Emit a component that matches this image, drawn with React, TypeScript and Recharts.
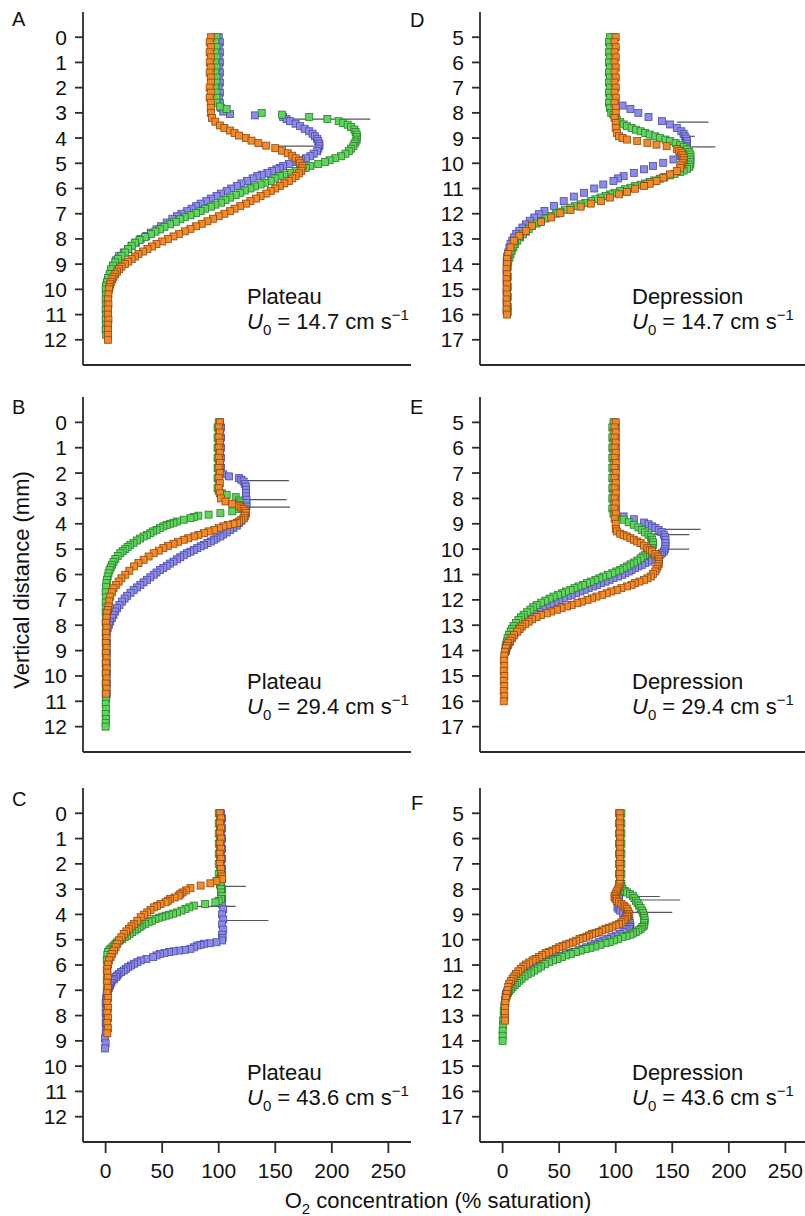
import React from 'react';
import { ScatterChart, Scatter, XAxis, YAxis, ReferenceLine } from 'recharts';

// each point: [depth (mm), O2 concentration (% saturation)]
type Pt = [number, number];
// error bar: [depth, from, to]
type Bar = [number, number, number];

const X_TICKS = [0, 50, 100, 150, 200, 250];
const PLATEAU_TICKS = [0, 1, 2, 3, 4, 5, 6, 7, 8, 9, 10, 11, 12];
const DEPRESSION_TICKS = [5, 6, 7, 8, 9, 10, 11, 12, 13, 14, 15, 16, 17];

// ---- A: plateau, 14.7 cm/s
const A_BLUE: Pt[] = [
  [0, 100], [0.2, 101], [0.4, 100], [0.6, 101], [0.8, 100], [1.0, 101], [1.2, 100], [1.4, 101], [1.6, 100], [1.8, 101],
  [2.0, 100], [2.2, 101], [2.4, 100], [2.6, 101], [2.8, 102], [2.95, 104], [3.05, 110], [3.1, 132], [3.16, 157], [3.25, 160],
  [3.33, 163], [3.43, 168], [3.53, 172], [3.63, 176], [3.73, 180], [3.83, 183], [3.93, 185], [4.03, 187], [4.12, 188], [4.22, 189],
  [4.32, 189], [4.42, 188], [4.52, 187], [4.62, 184], [4.72, 181], [4.8, 177], [4.88, 173], [4.95, 169], [5.03, 162], [5.11, 157],
  [5.18, 154], [5.24, 151], [5.31, 147], [5.38, 143], [5.45, 138], [5.51, 134], [5.6, 130], [5.7, 125], [5.8, 120], [5.9, 116],
  [6.0, 111], [6.1, 107], [6.2, 102], [6.3, 98], [6.4, 93], [6.5, 89], [6.6, 84], [6.7, 80], [6.8, 76], [6.9, 72],
  [7.0, 67], [7.1, 63], [7.2, 59], [7.35, 54], [7.5, 49], [7.62, 45], [7.75, 40], [7.88, 36], [8.0, 31], [8.14, 27],
  [8.27, 23], [8.41, 20], [8.54, 16], [8.67, 12], [8.85, 9], [9.06, 6.5], [9.25, 5], [9.46, 3.6], [9.65, 2], [9.85, 1],
  [10.0, 0.6], [10.2, 0.5], [10.4, 1], [10.6, 0.5], [10.8, 1], [11.0, 0.5], [11.2, 1], [11.4, 0.5], [11.6, 1],
];
const A_GREEN: Pt[] = [
  [0, 98], [0.2, 97], [0.4, 98], [0.6, 97], [0.8, 98], [1.0, 97], [1.2, 98], [1.4, 97], [1.6, 98], [1.8, 98],
  [2.0, 97], [2.2, 98], [2.4, 98], [2.6, 98], [2.75, 101], [2.85, 107], [3.0, 138], [3.07, 156], [3.16, 180], [3.24, 196],
  [3.33, 206], [3.4, 210], [3.47, 214], [3.56, 217], [3.66, 220], [3.76, 221], [3.86, 222], [3.96, 222], [4.06, 222], [4.14, 221],
  [4.22, 220], [4.32, 219], [4.42, 217], [4.52, 215], [4.62, 212], [4.72, 208], [4.8, 203], [4.88, 198], [4.95, 194], [5.03, 188],
  [5.11, 181], [5.18, 177], [5.24, 172], [5.31, 168], [5.38, 163], [5.45, 158], [5.51, 154], [5.6, 150], [5.7, 146], [5.77, 141],
  [5.84, 137], [5.92, 132], [6.0, 128], [6.08, 123], [6.17, 119], [6.26, 115], [6.36, 110], [6.46, 106], [6.56, 102], [6.64, 97],
  [6.72, 93], [6.8, 88], [6.89, 84], [6.97, 80], [7.06, 75], [7.14, 70], [7.22, 66], [7.32, 62], [7.42, 57], [7.52, 52],
  [7.62, 48], [7.71, 44], [7.81, 40], [7.92, 35], [8.04, 30], [8.15, 26], [8.27, 23], [8.4, 20], [8.54, 17], [8.67, 14],
  [8.8, 11], [8.93, 8.5], [9.06, 6.5], [9.2, 5], [9.39, 3.6], [9.55, 2.2], [9.72, 1.2], [9.85, 0.5], [10.0, 0], [10.2, 0.5],
  [10.4, 0], [10.6, 0.5], [10.8, 0], [11.0, 0.5], [11.2, 0], [11.4, 0.5], [11.6, 0], [11.8, 0.5],
];
const A_ORANGE: Pt[] = [
  [0, 93], [0.2, 92], [0.4, 93], [0.6, 92], [0.8, 93], [1.0, 92], [1.2, 93], [1.4, 92], [1.6, 93], [1.8, 93],
  [2.0, 92], [2.2, 93], [2.4, 92], [2.6, 93], [2.8, 93], [3.0, 93], [3.2, 94], [3.35, 97], [3.5, 101], [3.6, 105],
  [3.7, 110], [3.8, 114], [3.9, 118], [4.0, 124], [4.1, 129], [4.2, 135], [4.3, 142], [4.4, 150], [4.5, 156], [4.6, 161],
  [4.7, 165], [4.8, 168], [4.9, 171], [5.0, 172], [5.1, 174], [5.2, 174], [5.3, 173], [5.4, 171], [5.5, 168], [5.6, 165],
  [5.7, 162], [5.8, 158], [5.9, 154], [6.0, 150], [6.1, 146], [6.2, 142], [6.3, 137], [6.4, 133], [6.5, 128], [6.6, 124],
  [6.7, 119], [6.8, 114], [6.9, 110], [7.0, 105], [7.1, 100], [7.2, 95], [7.3, 90], [7.4, 85], [7.5, 80], [7.6, 75],
  [7.7, 70], [7.8, 65], [7.9, 60], [8.0, 55], [8.1, 50], [8.2, 45], [8.3, 41], [8.4, 37], [8.5, 33], [8.6, 29],
  [8.7, 26], [8.8, 23], [8.9, 20], [9.0, 17], [9.1, 14], [9.2, 12], [9.3, 10], [9.4, 8.5], [9.5, 7], [9.6, 6],
  [9.7, 5], [9.8, 4], [9.9, 3.5], [10.0, 3], [10.2, 2.5], [10.4, 2], [10.6, 2.5], [10.8, 2], [11.0, 2], [11.2, 2.5],
  [11.4, 2], [11.6, 2], [11.8, 2], [12.0, 2],
];
const A_BARS: Bar[] = [[3.25, 163, 234], [4.32, 150, 184]];

// ---- B: plateau, 29.4 cm/s
const B_BLUE: Pt[] = [
  [0, 101], [0.2, 102], [0.4, 101], [0.6, 102], [0.8, 101], [1.0, 102], [1.2, 101], [1.4, 102], [1.6, 101], [1.8, 102],
  [1.95, 101], [2.05, 104], [2.13, 109], [2.2, 118], [2.26, 120], [2.33, 122], [2.43, 123], [2.53, 124], [2.66, 124], [2.79, 124],
  [2.92, 124], [3.05, 124.5], [3.18, 124.5], [3.32, 124.5], [3.45, 124], [3.58, 124], [3.68, 123], [3.78, 122], [3.88, 120], [3.97, 118],
  [4.07, 116], [4.17, 113], [4.25, 110], [4.34, 107], [4.42, 104], [4.5, 101.5], [4.57, 98], [4.63, 95.6], [4.7, 93], [4.76, 90],
  [4.83, 87], [4.89, 84], [4.96, 81], [5.03, 78], [5.1, 75], [5.16, 72], [5.24, 69], [5.32, 66], [5.4, 63], [5.49, 60],
  [5.57, 57], [5.66, 54], [5.74, 51], [5.82, 48], [5.92, 45], [6.01, 42.5], [6.11, 39.5], [6.21, 36.6], [6.31, 33.5], [6.41, 30.7],
  [6.51, 27.7], [6.61, 24.8], [6.72, 22], [6.84, 19], [6.95, 16.8], [7.07, 14.5], [7.2, 12.2], [7.33, 10], [7.46, 8.5], [7.59, 7],
  [7.72, 5.5], [7.86, 4], [7.99, 2.8], [8.12, 1.8], [8.3, 1], [8.5, 0.5], [8.7, 1], [8.9, 0.5], [9.1, 1], [9.3, 0.5],
  [9.5, 1], [9.7, 0.5], [9.9, 1], [10.1, 0.5], [10.3, 1], [10.5, 0.5], [10.7, 1], [10.9, 0.5],
];
const B_GREEN: Pt[] = [
  [0, 100], [0.2, 99], [0.4, 100], [0.6, 99], [0.8, 100], [1.0, 99], [1.2, 100], [1.4, 99], [1.6, 100], [1.8, 99],
  [2.0, 100], [2.2, 99], [2.4, 100], [2.6, 99], [2.7, 100], [2.8, 103], [2.86, 107], [2.95, 115], [3.08, 118], [3.16, 119],
  [3.25, 119], [3.33, 118], [3.42, 117], [3.51, 112], [3.58, 101.5], [3.64, 91], [3.68, 82], [3.73, 78], [3.78, 75], [3.84, 69],
  [3.91, 63], [3.96, 60], [4.0, 57], [4.05, 54], [4.1, 51], [4.17, 48], [4.24, 45], [4.3, 42], [4.37, 39.5], [4.44, 36.5],
  [4.5, 33.6], [4.58, 30.5], [4.66, 27.7], [4.75, 24.7], [4.83, 21.8], [4.91, 19.5], [4.99, 17.4], [5.08, 15], [5.16, 13], [5.27, 10.7],
  [5.39, 8.6], [5.5, 7], [5.62, 5.6], [5.72, 4.5], [5.82, 3.5], [5.95, 2.6], [6.08, 1.8], [6.21, 1.2], [6.34, 0.6], [6.5, 0.5],
  [6.7, 0], [6.9, 0.5], [7.1, 0], [7.3, 0.5], [7.5, 0], [7.7, 0.5], [7.9, 0], [8.1, 0.5], [8.3, 0], [8.5, 0.5],
  [8.7, 0], [8.9, 0.5], [9.1, 0], [9.3, 0.5], [9.5, 0], [9.7, 0.5], [9.9, 0], [10.1, 0.5], [10.3, 0], [10.5, 0.5],
  [10.7, 0], [10.9, 0.5], [11.1, 0], [11.3, 0.5], [11.5, 0], [11.7, 0.5], [11.85, 0], [12.0, 0],
];
const B_ORANGE: Pt[] = [
  [0, 101], [0.2, 100], [0.4, 101], [0.6, 100], [0.8, 101], [1.0, 100], [1.2, 101], [1.4, 100], [1.6, 101], [1.8, 100],
  [2.0, 101], [2.2, 100], [2.4, 101], [2.6, 100], [2.8, 101], [3.0, 102], [3.12, 106], [3.21, 112], [3.29, 118], [3.36, 120],
  [3.42, 122], [3.5, 123], [3.58, 124], [3.68, 123], [3.78, 122], [3.85, 120], [3.91, 118], [3.96, 116], [4.0, 113], [4.05, 108],
  [4.1, 104], [4.17, 100], [4.24, 96], [4.3, 91], [4.37, 87], [4.44, 82], [4.5, 78], [4.57, 73], [4.63, 69], [4.71, 64],
  [4.79, 60], [4.88, 55], [4.96, 51], [5.06, 47], [5.16, 42.5], [5.29, 38], [5.42, 33.6], [5.55, 29], [5.68, 25], [5.85, 21],
  [6.01, 17.4], [6.15, 14], [6.28, 11.5], [6.41, 9], [6.54, 7], [6.7, 5.5], [6.87, 4], [7.06, 3.2], [7.26, 2.7], [7.4, 2],
  [7.53, 1.2], [7.7, 0.8], [7.9, 0.5], [8.1, 0.8], [8.3, 0.5], [8.5, 0.8], [8.7, 0.5], [8.9, 0.8], [9.1, 0.5], [9.3, 0.8],
  [9.5, 0.5], [9.7, 0.8], [9.9, 0.5], [10.1, 0.8], [10.3, 0.5], [10.5, 0.8], [10.7, 0.5],
];
const B_BARS: Bar[] = [[2.3, 124, 162], [3.05, 122, 160], [3.34, 125, 163]];

// ---- C: plateau, 43.6 cm/s
const C_BLUE: Pt[] = [
  [0, 102], [0.2, 103], [0.4, 102], [0.6, 103], [0.8, 102], [1.0, 103], [1.2, 102], [1.4, 103], [1.6, 102], [1.8, 103],
  [2.0, 102], [2.2, 103], [2.4, 102], [2.6, 103], [2.8, 102], [3.0, 103], [3.2, 102], [3.4, 103], [3.6, 103], [3.8, 104],
  [4.0, 103], [4.2, 104], [4.4, 103], [4.6, 104], [4.8, 103], [4.93, 103.5], [5.03, 103], [5.1, 98], [5.14, 92], [5.16, 87],
  [5.2, 84], [5.23, 81], [5.3, 78], [5.36, 75], [5.4, 70], [5.43, 65], [5.46, 60], [5.49, 56], [5.53, 52], [5.56, 48],
  [5.62, 45], [5.69, 42], [5.76, 36], [5.82, 31], [5.89, 28], [5.95, 25], [6.02, 22.5], [6.08, 20], [6.15, 18], [6.22, 16],
  [6.28, 13.7], [6.35, 11.5], [6.42, 10.2], [6.48, 9], [6.55, 7.5], [6.61, 6], [6.71, 5], [6.81, 4], [6.9, 3], [7.0, 2],
  [7.15, 1], [7.3, 0.5], [7.5, 0], [7.7, 0.5], [7.9, 0], [8.1, 0.5], [8.3, 0], [8.5, 0.5], [8.7, 0], [8.9, -0.5],
  [9.1, 0], [9.3, -0.5],
];
const C_GREEN: Pt[] = [
  [0, 100], [0.2, 101], [0.4, 100], [0.6, 101], [0.8, 100], [1.0, 101], [1.2, 100], [1.4, 101], [1.6, 100], [1.8, 101],
  [2.0, 100], [2.2, 101], [2.4, 100], [2.6, 101], [2.8, 101], [2.86, 101.5], [3.0, 102], [3.13, 102], [3.26, 102.5], [3.39, 102],
  [3.46, 100], [3.52, 97], [3.59, 88], [3.65, 78], [3.72, 74], [3.78, 70.6], [3.85, 67], [3.92, 63], [3.97, 59.5], [4.01, 56],
  [4.05, 53], [4.09, 50], [4.13, 47], [4.18, 44], [4.25, 41], [4.31, 38], [4.37, 35], [4.44, 32], [4.5, 30], [4.57, 28],
  [4.63, 25.7], [4.7, 23.5], [4.77, 21.2], [4.84, 19], [4.9, 16.8], [4.97, 14.7], [5.03, 12.5], [5.1, 10.3], [5.16, 8.8], [5.23, 7.4],
  [5.3, 5.9], [5.36, 4.4], [5.42, 3.2], [5.49, 2], [5.6, 1.5], [5.8, 1], [6.0, 1.5], [6.2, 1], [6.4, 1.5], [6.6, 1],
  [6.8, 1.5], [7.0, 1], [7.2, 1.5], [7.4, 1], [7.6, 1.5], [7.8, 1], [8.0, 1.5], [8.2, 1], [8.4, 1],
];
const C_ORANGE: Pt[] = [
  [0, 101], [0.2, 102], [0.4, 101], [0.6, 102], [0.8, 101], [1.0, 102], [1.2, 101], [1.4, 102], [1.6, 101], [1.8, 102],
  [2.0, 101], [2.2, 102], [2.4, 102], [2.5, 103], [2.6, 103], [2.68, 98], [2.77, 92.6], [2.86, 84], [2.96, 75], [3.05, 71],
  [3.13, 68], [3.2, 66], [3.26, 64.7], [3.33, 61], [3.39, 57], [3.46, 55], [3.52, 53], [3.59, 48.5], [3.66, 45.5], [3.72, 42.6],
  [3.82, 39.7], [3.92, 36.8], [4.01, 34], [4.11, 31], [4.25, 28], [4.38, 25], [4.47, 22.8], [4.57, 20.6], [4.67, 18.3], [4.77, 16],
  [4.9, 13.9], [5.03, 11.8], [5.16, 10.3], [5.3, 8.8], [5.43, 7.3], [5.56, 5.9], [5.69, 4.4], [5.82, 2.9], [5.98, 2.2], [6.15, 1.5],
  [6.3, 1.5], [6.5, 2], [6.7, 1.5], [6.9, 2], [7.1, 1.5], [7.3, 2], [7.5, 1.5], [7.7, 2], [7.9, 1.5], [8.1, 2],
  [8.3, 1.5], [8.5, 2], [8.7, 1.5],
];
const C_BARS: Bar[] = [[2.89, 104, 124], [3.68, 74, 115], [4.24, 103, 144]];

// ---- D: depression, 14.7 cm/s
const D_BLUE: Pt[] = [
  [5.0, 98], [5.2, 97], [5.4, 98], [5.6, 97], [5.8, 98], [6.0, 97], [6.2, 98], [6.4, 97], [6.6, 98], [6.8, 97],
  [7.0, 98], [7.2, 97], [7.4, 98], [7.6, 99], [7.71, 106], [7.85, 113], [8.0, 120], [8.16, 129], [8.33, 141], [8.46, 148],
  [8.6, 154], [8.73, 158], [8.83, 160], [8.93, 161], [9.02, 162], [9.12, 163], [9.22, 163], [9.32, 162], [9.42, 161], [9.52, 160],
  [9.62, 159], [9.72, 157], [9.85, 151], [9.98, 142], [10.11, 133], [10.24, 125], [10.38, 116], [10.51, 107], [10.6, 102], [10.7, 98],
  [10.84, 89], [11.0, 81], [11.17, 72], [11.32, 63], [11.5, 54], [11.69, 45.5], [11.89, 37], [12.02, 32], [12.15, 28], [12.28, 24],
  [12.42, 20.5], [12.55, 17.5], [12.68, 14.7], [12.8, 12], [12.94, 10], [13.07, 8.5], [13.2, 7], [13.35, 6], [13.54, 5], [13.7, 4],
  [13.9, 3.5], [14.1, 4], [14.3, 3.5], [14.5, 4], [14.7, 3.5], [14.9, 4], [15.1, 3.5], [15.3, 4], [15.5, 3.5], [15.7, 4],
  [15.85, 3.5],
];
const D_GREEN: Pt[] = [
  [5.0, 95], [5.2, 94], [5.4, 95], [5.6, 94], [5.8, 95], [6.0, 94], [6.2, 95], [6.4, 94], [6.6, 95], [6.8, 94],
  [7.0, 95], [7.2, 94], [7.4, 95], [7.6, 94], [7.8, 95], [8.0, 96], [8.07, 98], [8.17, 100], [8.27, 101], [8.37, 104],
  [8.46, 107], [8.53, 110], [8.6, 114], [8.67, 118], [8.73, 122], [8.8, 126], [8.86, 130], [8.93, 135], [8.99, 139], [9.06, 144],
  [9.12, 148], [9.2, 153], [9.28, 157], [9.36, 160], [9.45, 163], [9.55, 165], [9.65, 166], [9.75, 166], [9.85, 166], [9.95, 166],
  [10.05, 166], [10.14, 165], [10.22, 163], [10.29, 160], [10.35, 157], [10.42, 152], [10.48, 148], [10.55, 143], [10.61, 139], [10.68, 134],
  [10.74, 130], [10.8, 126], [10.85, 122], [10.91, 117], [10.97, 113], [11.03, 108], [11.1, 104], [11.17, 99], [11.23, 95], [11.3, 91],
  [11.36, 86.5], [11.43, 82], [11.5, 78], [11.57, 73], [11.63, 69], [11.7, 64], [11.76, 60], [11.84, 55], [11.92, 51], [12.0, 47],
  [12.09, 42.5], [12.19, 38], [12.29, 34], [12.39, 30], [12.48, 26], [12.6, 23], [12.71, 20.5], [12.82, 18], [12.94, 15.5], [13.07, 13],
  [13.2, 11], [13.34, 9.5], [13.47, 8], [13.6, 7], [13.74, 6], [13.9, 5], [14.1, 4.5], [14.3, 4], [14.5, 4.5], [14.7, 4],
  [14.9, 4.5], [15.1, 4], [15.3, 4.5], [15.5, 4], [15.7, 4.5], [15.9, 4.5],
];
const D_ORANGE: Pt[] = [
  [5.0, 100], [5.2, 99], [5.4, 100], [5.6, 99], [5.8, 100], [6.0, 99], [6.2, 100], [6.4, 99], [6.6, 100], [6.8, 99],
  [7.0, 100], [7.2, 99], [7.4, 100], [7.6, 99], [7.8, 100], [8.0, 100], [8.2, 99], [8.4, 100], [8.6, 100], [8.8, 101],
  [8.93, 103], [9.0, 106], [9.06, 110], [9.12, 119], [9.19, 128], [9.26, 136], [9.32, 145], [9.43, 154], [9.5, 156], [9.58, 158],
  [9.68, 159], [9.78, 160], [9.88, 160], [9.98, 159], [10.08, 158], [10.18, 157], [10.31, 154], [10.44, 148], [10.57, 142], [10.7, 136],
  [10.81, 130], [10.9, 125], [11.01, 117], [11.14, 110], [11.23, 103], [11.36, 95], [11.5, 87], [11.6, 78], [11.72, 69], [11.85, 60],
  [11.98, 51], [12.15, 43], [12.33, 34], [12.48, 26], [12.68, 20.5], [12.88, 14.7], [13.08, 10], [13.34, 7], [13.6, 5], [13.8, 4],
  [14.0, 4], [14.2, 3.5], [14.4, 4], [14.6, 3.5], [14.8, 4], [15.0, 3.5], [15.2, 4], [15.4, 3.5], [15.6, 4], [15.8, 3.5],
  [16.0, 4],
];
const D_BARS: Bar[] = [[8.37, 154, 182], [8.93, 163, 170], [9.35, 155, 188]];

// ---- E: depression, 29.4 cm/s
const E_BLUE: Pt[] = [
  [5.0, 99], [5.2, 100], [5.4, 99], [5.6, 100], [5.8, 99], [6.0, 100], [6.2, 99], [6.4, 100], [6.6, 99], [6.8, 100],
  [7.0, 99], [7.2, 100], [7.4, 99], [7.6, 100], [7.8, 99], [8.0, 100], [8.2, 99], [8.4, 100], [8.6, 100], [8.71, 107],
  [8.82, 116], [8.95, 125], [9.02, 129], [9.1, 132], [9.17, 135], [9.24, 138], [9.33, 140.5], [9.43, 142.5], [9.53, 143.5], [9.63, 144],
  [9.76, 144], [9.89, 144], [9.99, 143.5], [10.09, 142.5], [10.16, 141], [10.22, 139.5], [10.29, 137], [10.36, 135], [10.42, 132], [10.49, 129],
  [10.55, 126], [10.62, 123], [10.68, 120], [10.75, 117], [10.82, 114], [10.88, 111.5], [10.95, 108.5], [11.01, 105.6], [11.08, 102], [11.14, 98],
  [11.21, 94.5], [11.28, 91], [11.34, 87], [11.41, 83.5], [11.47, 80], [11.54, 76], [11.6, 72.5], [11.67, 68.7], [11.73, 65], [11.8, 61],
  [11.86, 57.5], [11.93, 54], [12.01, 50], [12.09, 46.6], [12.17, 43], [12.26, 39], [12.36, 35.5], [12.46, 32], [12.56, 29], [12.66, 26],
  [12.76, 23], [12.86, 20], [12.95, 17.8], [13.05, 15.6], [13.17, 13.2], [13.29, 11], [13.4, 9.5], [13.51, 8], [13.65, 6.5], [13.78, 5],
  [13.9, 3.5], [14.0, 3],
];
const E_GREEN: Pt[] = [
  [5.0, 98], [5.2, 97], [5.4, 98], [5.6, 97], [5.8, 98], [6.0, 97], [6.2, 98], [6.4, 97], [6.6, 98], [6.8, 97],
  [7.0, 98], [7.2, 97], [7.4, 98], [7.6, 97], [7.8, 98], [8.0, 97], [8.2, 98], [8.4, 97], [8.6, 98], [8.72, 100],
  [8.84, 107], [8.94, 111.5], [9.04, 116], [9.14, 120], [9.24, 123], [9.34, 126], [9.43, 129], [9.53, 131], [9.63, 132], [9.73, 133],
  [9.83, 133], [9.96, 132], [10.02, 130.5], [10.09, 129], [10.16, 127.5], [10.22, 126], [10.29, 124], [10.36, 122], [10.45, 119], [10.53, 116],
  [10.6, 113], [10.68, 110], [10.75, 107], [10.82, 104], [10.88, 100.5], [10.95, 97], [11.01, 93], [11.08, 89], [11.15, 85.5], [11.21, 82],
  [11.28, 78], [11.34, 74.6], [11.41, 71], [11.47, 67], [11.54, 63.5], [11.61, 60], [11.67, 56], [11.74, 52.5], [11.8, 49], [11.87, 45],
  [11.95, 41.5], [12.03, 37.8], [12.11, 34], [12.2, 30], [12.29, 27], [12.39, 24.5], [12.49, 21.5], [12.59, 18.6], [12.69, 16.3], [12.79, 14],
  [12.91, 11.8], [13.03, 9.7], [13.14, 8.3], [13.25, 7], [13.38, 5.7], [13.51, 4.4], [13.65, 3.7], [13.78, 3], [13.9, 2.5], [14.0, 2.5],
];
const E_ORANGE: Pt[] = [
  [5.0, 100], [5.2, 99], [5.4, 100], [5.6, 99], [5.8, 100], [6.0, 99], [6.2, 100], [6.4, 99], [6.6, 100], [6.8, 99],
  [7.0, 100], [7.2, 99], [7.4, 100], [7.6, 99], [7.8, 100], [8.0, 99], [8.2, 100], [8.4, 99], [8.6, 100], [8.8, 99],
  [9.0, 100], [9.2, 100], [9.3, 101], [9.39, 104], [9.45, 107], [9.5, 110], [9.57, 113], [9.63, 116], [9.7, 119], [9.76, 122],
  [9.86, 125], [9.96, 128], [10.03, 130], [10.09, 132], [10.19, 135], [10.29, 137], [10.39, 138], [10.49, 138], [10.58, 138], [10.68, 137],
  [10.78, 136], [10.88, 135], [10.98, 133], [11.08, 131], [11.15, 128], [11.21, 125], [11.28, 121], [11.34, 117], [11.41, 114], [11.47, 110],
  [11.54, 105], [11.61, 101], [11.67, 96], [11.74, 92], [11.8, 88], [11.87, 83], [11.94, 79], [12.0, 75], [12.07, 70], [12.13, 66],
  [12.2, 61], [12.26, 57], [12.33, 52], [12.39, 48], [12.46, 43], [12.53, 39], [12.6, 34], [12.68, 30], [12.77, 26], [12.86, 23],
  [12.95, 20], [13.05, 17], [13.15, 15], [13.25, 13], [13.38, 10], [13.51, 8], [13.61, 6.5], [13.71, 5], [13.81, 4], [13.91, 3],
  [14.05, 2], [14.2, 1.5], [14.4, 1], [14.6, 1.5], [14.8, 1], [15.0, 1.5], [15.2, 1], [15.4, 1.5], [15.6, 1], [15.8, 1.5],
  [16.0, 1],
];
const E_BARS: Bar[] = [[9.22, 140, 175], [9.43, 133, 165], [10.0, 143, 165]];

// ---- F: depression, 43.6 cm/s
const F_BLUE: Pt[] = [
  [5.0, 103], [5.2, 104], [5.4, 103], [5.6, 104], [5.8, 103], [6.0, 104], [6.2, 103], [6.4, 104], [6.6, 103], [6.8, 104],
  [7.0, 103], [7.2, 104], [7.4, 103], [7.6, 104], [7.8, 103], [8.0, 104], [8.2, 103], [8.4, 103], [8.5, 103], [8.62, 102],
  [8.72, 101.5], [8.78, 102.5], [8.85, 104], [8.95, 106.5], [9.05, 109], [9.15, 110.5], [9.24, 112], [9.34, 112.5], [9.44, 113], [9.5, 112.5],
  [9.57, 112], [9.63, 109.5], [9.7, 107], [9.77, 103.5], [9.84, 100], [9.9, 96], [9.97, 92.6], [10.03, 89], [10.1, 85], [10.16, 81.5],
  [10.23, 78], [10.3, 74], [10.36, 70.6], [10.42, 67], [10.49, 63], [10.53, 59.5], [10.58, 56], [10.64, 52], [10.69, 48.5], [10.76, 45],
  [10.82, 41], [10.89, 37.5], [10.95, 34], [11.02, 31], [11.08, 28], [11.16, 25], [11.24, 22], [11.32, 19], [11.41, 16], [11.5, 13.8],
  [11.58, 11.8], [11.67, 9.8], [11.77, 8], [11.88, 6.4], [11.98, 5], [12.06, 4], [12.14, 3], [12.25, 2.5],
];
const F_GREEN: Pt[] = [
  [5.0, 105], [5.2, 104], [5.4, 105], [5.6, 104], [5.8, 105], [6.0, 104], [6.2, 105], [6.4, 104], [6.6, 105], [6.8, 104],
  [7.0, 105], [7.2, 104], [7.4, 105], [7.6, 104], [7.8, 105], [7.9, 105], [8.0, 106], [8.07, 108], [8.13, 110], [8.2, 112.5],
  [8.26, 115], [8.36, 116.5], [8.46, 118], [8.55, 119.3], [8.65, 120.6], [8.75, 122], [8.85, 123.5], [8.95, 124.3], [9.05, 125], [9.14, 125.3],
  [9.24, 125.6], [9.34, 125.3], [9.44, 125], [9.5, 123.5], [9.57, 122], [9.63, 120], [9.7, 117.6], [9.75, 115.3], [9.8, 113], [9.85, 109.5],
  [9.9, 106], [9.97, 102], [10.03, 98.5], [10.09, 94.7], [10.14, 91], [10.2, 86.5], [10.27, 82], [10.32, 77.7], [10.37, 73.5], [10.43, 69],
  [10.49, 64.7], [10.56, 60.3], [10.62, 56], [10.69, 52.3], [10.76, 48.5], [10.82, 44.7], [10.89, 41], [10.97, 37.5], [11.06, 34], [11.14, 31],
  [11.22, 28], [11.3, 25], [11.37, 22], [11.45, 19.4], [11.54, 16.8], [11.62, 14.7], [11.71, 12.6], [11.79, 10.7], [11.87, 8.8], [11.95, 7.3],
  [12.03, 5.9], [12.11, 4.8], [12.2, 3.8], [12.3, 2.9], [12.4, 2], [12.6, 1.5], [12.8, 1], [13.0, 1], [13.2, 0.5], [13.4, 0.5],
  [13.6, 0], [13.8, 0], [14.0, 0],
];
const F_ORANGE: Pt[] = [
  [5.0, 103.5], [5.2, 104], [5.4, 103.5], [5.6, 104], [5.8, 103.5], [6.0, 104], [6.2, 103.5], [6.4, 104], [6.6, 103.5], [6.8, 104],
  [7.0, 103.5], [7.2, 104], [7.4, 103.5], [7.6, 104], [7.8, 103.5], [7.93, 103], [8.01, 102], [8.09, 101], [8.18, 100], [8.26, 99],
  [8.33, 99], [8.39, 100], [8.46, 101], [8.52, 103], [8.59, 105], [8.65, 107], [8.72, 108.5], [8.78, 110], [8.88, 111], [8.98, 112],
  [9.05, 111], [9.11, 110], [9.18, 108.5], [9.24, 107], [9.31, 105], [9.38, 103], [9.43, 100], [9.48, 97], [9.53, 94], [9.57, 91],
  [9.63, 88], [9.7, 85], [9.74, 82], [9.77, 79], [9.83, 76.5], [9.88, 74], [9.93, 71], [9.97, 68], [10.04, 65], [10.1, 62],
  [10.15, 59], [10.19, 56], [10.25, 53], [10.3, 50], [10.37, 47], [10.43, 44], [10.48, 41], [10.53, 38], [10.61, 35], [10.69, 32],
  [10.76, 29], [10.82, 26.5], [10.9, 23.5], [10.98, 20.6], [11.06, 18.3], [11.15, 16], [11.25, 13.9], [11.35, 11.8], [11.45, 10.3], [11.54, 8.8],
  [11.64, 7.3], [11.74, 5.9], [11.87, 5], [12.0, 4.4], [12.15, 3.5], [12.3, 3], [12.5, 2.5], [12.7, 2], [12.9, 2], [13.1, 2],
  [13.2, 2],
];
const F_BARS: Bar[] = [[8.29, 110, 139], [8.43, 116, 157], [8.92, 113, 150]];

const BLUE = { fill: '#8c8ce8', stroke: '#4a4aa6' };
const GREEN = { fill: '#5ed65e', stroke: '#2a7d2a' };
const ORANGE = { fill: '#f38a28', stroke: '#8e4812' };
const AXIS = '#2b2b2b';
const FONT = '"Liberation Sans", Arial, Helvetica, sans-serif';

const ROW_TOP = [12, 397, 788];
const ROW_H = [353, 355, 354];
const COL_LEFT = [0, 397];
const Y_AXIS_W = 83;
const CHART_W = 411;

const PANELS = [
  { id: 'A', col: 0, row: 0, site: 'Plateau', u0: '14.7', blue: A_BLUE, green: A_GREEN, orange: A_ORANGE, bars: A_BARS },
  { id: 'B', col: 0, row: 1, site: 'Plateau', u0: '29.4', blue: B_BLUE, green: B_GREEN, orange: B_ORANGE, bars: B_BARS },
  { id: 'C', col: 0, row: 2, site: 'Plateau', u0: '43.6', blue: C_BLUE, green: C_GREEN, orange: C_ORANGE, bars: C_BARS },
  { id: 'D', col: 1, row: 0, site: 'Depression', u0: '14.7', blue: D_BLUE, green: D_GREEN, orange: D_ORANGE, bars: D_BARS },
  { id: 'E', col: 1, row: 1, site: 'Depression', u0: '29.4', blue: E_BLUE, green: E_GREEN, orange: E_ORANGE, bars: E_BARS },
  { id: 'F', col: 1, row: 2, site: 'Depression', u0: '43.6', blue: F_BLUE, green: F_GREEN, orange: F_ORANGE, bars: F_BARS },
];

const toPoints = (pts: Pt[]) => pts.map(([d, v]) => ({ d, v }));

const square = (c: { fill: string; stroke: string }) => (props: any) => {
  const { cx, cy } = props;
  if (cx == null || cy == null) return <g />;
  return <rect x={cx - 3.5} y={cy - 3.5} width={7} height={7} fill={c.fill} stroke={c.stroke} strokeWidth={0.8} />;
};

function Panel({ p }: { p: (typeof PANELS)[number] }) {
  const plateau = p.site === 'Plateau';
  const plotH = ROW_H[p.row];
  const bottom = p.row === 2;
  const axisStyle = { stroke: AXIS, strokeWidth: 1.8 };
  return (
    <div style={{ position: 'absolute', left: COL_LEFT[p.col], top: ROW_TOP[p.row] - 10 }}>
      <ScatterChart width={CHART_W} height={plotH + 60} margin={{ top: 10, right: 0, bottom: 0, left: 0 }}>
        <XAxis
          type="number"
          dataKey="v"
          domain={[-20, 270]}
          ticks={X_TICKS}
          allowDataOverflow
          height={50}
          tickSize={11}
          tickMargin={10}
          tick={bottom ? { fill: '#111', fontSize: 21 } : false}
          axisLine={axisStyle}
          tickLine={axisStyle}
        />
        <YAxis
          type="number"
          dataKey="d"
          domain={plateau ? [-1, 13] : [4, 18]}
          ticks={plateau ? PLATEAU_TICKS : DEPRESSION_TICKS}
          interval={0}
          reversed
          allowDataOverflow
          width={Y_AXIS_W}
          tickSize={8}
          tickMargin={8}
          tick={{ fill: '#111', fontSize: 21 }}
          axisLine={axisStyle}
          tickLine={axisStyle}
        />
        <Scatter data={toPoints(p.blue)} shape={square(BLUE)} isAnimationActive={false} />
        <Scatter data={toPoints(p.green)} shape={square(GREEN)} isAnimationActive={false} />
        <Scatter data={toPoints(p.orange)} shape={square(ORANGE)} isAnimationActive={false} />
        {p.bars.map(([d, a, b], i) => (
          <ReferenceLine
            key={i}
            segment={[{ x: a, y: d }, { x: b, y: d }]}
            stroke="#555"
            strokeWidth={1.2}
          />
        ))}
      </ScatterChart>
    </div>
  );
}

function Note({ p }: { p: (typeof PANELS)[number] }) {
  const left = p.col === 0 ? 247 : 632;
  const top = ROW_TOP[p.row] + 274;
  return (
    <div style={{ position: 'absolute', left, top, fontSize: 22, lineHeight: '22px', color: '#111', whiteSpace: 'nowrap' }}>
      <div style={{ height: 25 }}>{p.site}</div>
      <div style={{ height: 25 }}>
        <i>U</i>
        <span style={{ fontSize: 15, position: 'relative', top: 6 }}>0</span> = {p.u0} cm s
        <span style={{ fontSize: 15, position: 'relative', top: -9 }}>−1</span>
      </div>
    </div>
  );
}

const LETTERS = [
  { id: 'A', x: 12, y: 9 },
  { id: 'D', x: 410, y: 10 },
  { id: 'B', x: 12, y: 397 },
  { id: 'E', x: 410, y: 397 },
  { id: 'C', x: 12, y: 789 },
  { id: 'F', x: 411, y: 793 },
];

export default function App() {
  return (
    <div
      style={{
        position: 'absolute',
        left: 0,
        top: 0,
        width: 805,
        height: 1216,
        overflow: 'hidden',
        background: '#fff',
        fontFamily: FONT,
      }}
    >
      {PANELS.map((p) => (
        <Panel key={p.id} p={p} />
      ))}
      {PANELS.map((p) => (
        <Note key={p.id} p={p} />
      ))}
      {LETTERS.map((l) => (
        <div key={l.id} style={{ position: 'absolute', left: l.x, top: l.y, fontSize: 20, lineHeight: '20px', color: '#111' }}>
          {l.id}
        </div>
      ))}
      <div
        style={{
          position: 'absolute',
          left: 22 - 150,
          top: 580 - 12,
          width: 300,
          textAlign: 'center',
          fontSize: 22,
          lineHeight: '24px',
          color: '#111',
          transform: 'rotate(-90deg)',
          whiteSpace: 'nowrap',
        }}
      >
        Vertical distance (mm)
      </div>
      <div
        style={{
          position: 'absolute',
          left: 438 - 200,
          top: 1190,
          width: 400,
          textAlign: 'center',
          fontSize: 22,
          lineHeight: '22px',
          color: '#111',
          whiteSpace: 'nowrap',
        }}
      >
        O<span style={{ fontSize: 15, position: 'relative', top: 6 }}>2</span> concentration (% saturation)
      </div>
    </div>
  );
}
